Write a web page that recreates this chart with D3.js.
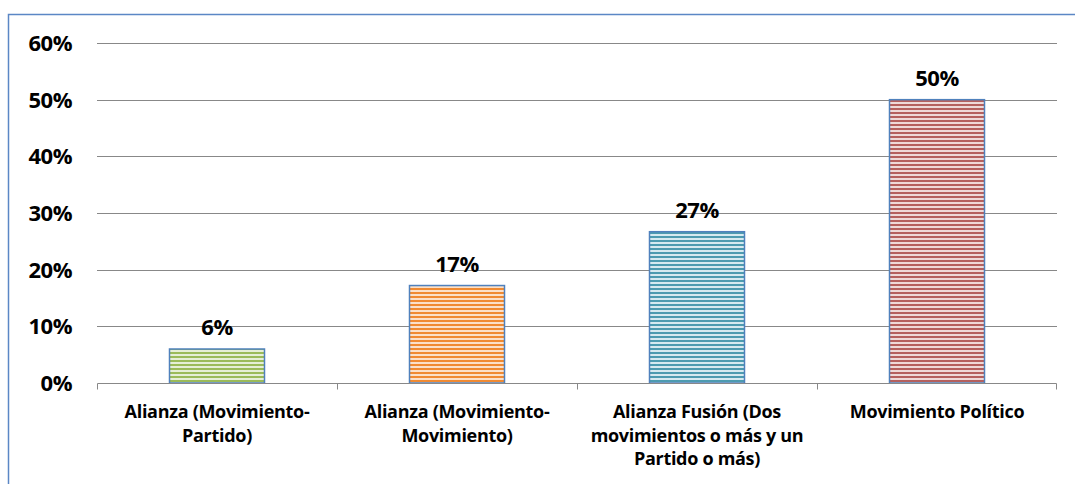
<!DOCTYPE html>
<html>
<head>
<meta charset="utf-8">
<script src="https://cdn.jsdelivr.net/npm/d3@7"></script>
<style>
	body { margin: 0; background: #fff; }
	text { font-family: "Open Sans", Lato, sans-serif; font-weight: bold; fill: #000; }
</style>
</head>
<body>
<svg id="chart" width="1075" height="484"></svg>
<script>
// data
const categories = [
	["Alianza (Movimiento-", "Partido)"],
	["Alianza (Movimiento-", "Movimiento)"],
	["Alianza Fusión (Dos", "movimientos o más y un", "Partido o más)"],
	["Movimiento Político"]
];
const values = [0.06, 0.172, 0.267, 0.50];
const valueLabels = ["6%", "17%", "27%", "50%"];
const yTicks = [0, 0.1, 0.2, 0.3, 0.4, 0.5, 0.6];
const stripeColors = [
	["#9bbb59", "#e6efd6"],
	["#f08a32", "#fbe0c9"],
	["#4d9bb0", "#d6eaf0"],
	["#b5605e", "#efd9d8"]
];

const svg = d3.select("#chart");
const margin = {left: 97, right: 18, top: 43, bottom: 101};
const width = 1075, height = 484;

// outer frame
svg.append("rect")
	.attr("x", 8.5).attr("y", 14.5)
	.attr("width", 1100).attr("height", 500)
	.attr("fill", "none")
	.attr("stroke", "#5b87c5")
	.attr("stroke-width", 1.5);

// stripe patterns
const defs = svg.append("defs");
stripeColors.forEach((c, i) => {
	const p = defs.append("pattern")
		.attr("id", "stripe" + i)
		.attr("patternUnits", "userSpaceOnUse")
		.attr("width", 8).attr("height", 4);
	p.append("rect").attr("width", 8).attr("height", 4).attr("fill", c[1]);
	p.append("rect").attr("y", 0).attr("width", 8).attr("height", 2).attr("fill", c[0]);
});

const xb = d3.scaleBand()
	.domain(d3.range(categories.length))
	.range([margin.left, width - margin.right]);

const y = d3.scaleLinear()
	.domain([0, 0.6])
	.range([height - margin.bottom, margin.top]);

// gridlines
svg.append("g")
	.selectAll("line")
	.data(yTicks.slice(1))
	.enter().append("line")
	.attr("x1", margin.left).attr("x2", width - margin.right)
	.attr("y1", d => Math.round(y(d)) + 0.5).attr("y2", d => Math.round(y(d)) + 0.5)
	.attr("stroke", "#888").attr("stroke-width", 1);

// y labels
svg.append("g")
	.selectAll("text")
	.data(yTicks)
	.enter().append("text")
	.attr("x", 72)
	.attr("y", d => y(d))
	.attr("dy", "0.36em")
	.attr("text-anchor", "end")
	.style("font-size", "22px")
	.style("letter-spacing", "-0.5px")
	.text(d3.format(".0%"));

// bars
svg.append("g")
	.selectAll("rect")
	.data(values)
	.enter().append("rect")
	.attr("x", (d, i) => xb(i) + (xb.bandwidth() - 95) / 2)
	.attr("width", 95)
	.attr("y", d => y(d))
	.attr("height", d => y(0) - y(d))
	.attr("fill", (d, i) => `url(#stripe${i})`)
	.attr("stroke", "#4f81bd")
	.attr("stroke-width", 1.5);

// value labels
svg.append("g")
	.selectAll("text")
	.data(values)
	.enter().append("text")
	.attr("x", (d, i) => xb(i) + xb.bandwidth() / 2)
	.attr("y", d => y(d) - 14)
	.attr("text-anchor", "middle")
	.style("font-size", "22px")
	.style("letter-spacing", "-0.5px")
	.text((d, i) => valueLabels[i]);

// x axis line with end ticks
svg.append("path")
	.attr("fill", "none")
	.attr("stroke", "#888")
	.attr("d", `M${margin.left + 0.5},${Math.round(y(0)) + 6.5}V${Math.round(y(0)) + 0.5}H${width - margin.right - 0.5}V${Math.round(y(0)) + 6.5}`);
svg.append("g")
	.selectAll("line")
	.data(d3.range(1, categories.length))
	.enter().append("line")
	.attr("x1", i => Math.round(xb(i)) + 0.5).attr("x2", i => Math.round(xb(i)) + 0.5)
	.attr("y1", Math.round(y(0)) + 0.5).attr("y2", Math.round(y(0)) + 6.5)
	.attr("stroke", "#888");

// category labels
const cat = svg.append("g")
	.selectAll("text")
	.data(categories)
	.enter().append("text")
	.attr("x", (d, i) => xb(i) + xb.bandwidth() / 2)
	.attr("y", 418)
	.attr("text-anchor", "middle")
	.style("font-size", "18px")
	.style("letter-spacing", "-0.3px");
cat.each(function(lines, i) {
	d3.select(this).selectAll("tspan")
		.data(lines)
		.enter().append("tspan")
		.attr("x", xb(i) + xb.bandwidth() / 2)
		.attr("dy", (d, j) => j ? 23.5 : 0)
		.text(d => d);
});
</script>
</body>
</html>
